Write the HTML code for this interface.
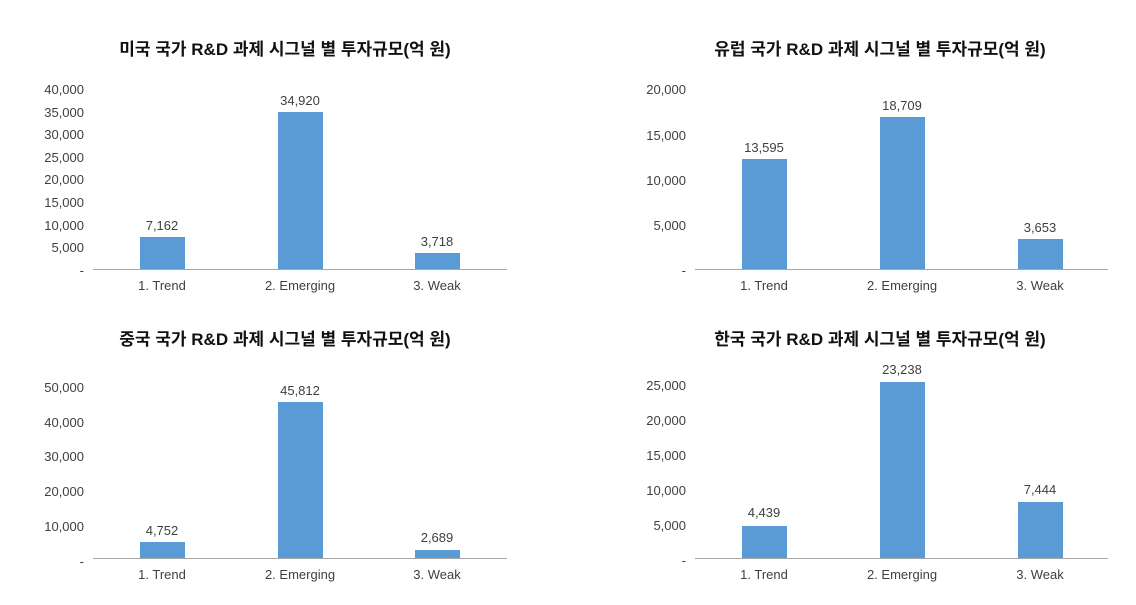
<!DOCTYPE html>
<html><head><meta charset="utf-8"><style>
html,body{margin:0;padding:0;background:#fff;}
svg{display:block;}
text{font-family:"Liberation Sans","Noto Sans CJK KR",sans-serif;fill:#404040;font-size:13px;}
.t{font-size:17px;font-weight:bold;fill:#111;}
.y{text-anchor:end;}
.c{text-anchor:middle;}
</style></head><body>
<svg width="1136" height="605" viewBox="0 0 1136 605">
<!-- Chart 1 US -->
<text class="t c" x="285" y="55">미국 국가 R&amp;D 과제 시그널 별 투자규모(억 원)</text>
<text class="y" x="84" y="94">40,000</text>
<text class="y" x="84" y="117">35,000</text>
<text class="y" x="84" y="139">30,000</text>
<text class="y" x="84" y="162">25,000</text>
<text class="y" x="84" y="184">20,000</text>
<text class="y" x="84" y="207">15,000</text>
<text class="y" x="84" y="230">10,000</text>
<text class="y" x="84" y="252">5,000</text>
<text class="y" x="84" y="275">-</text>
<line x1="93" y1="269.5" x2="507" y2="269.5" stroke="#a6a6a6" stroke-width="1"/>
<rect x="140" y="237" width="45" height="32" fill="#5b9bd5"/>
<rect x="278" y="112" width="45" height="157" fill="#5b9bd5"/>
<rect x="415" y="253" width="45" height="16" fill="#5b9bd5"/>
<text class="c" x="162" y="230">7,162</text>
<text class="c" x="300" y="105">34,920</text>
<text class="c" x="437" y="246">3,718</text>
<text class="c" x="162" y="290">1. Trend</text>
<text class="c" x="300" y="290">2. Emerging</text>
<text class="c" x="437" y="290">3. Weak</text>

<!-- Chart 2 EU -->
<text class="t c" x="880" y="55">유럽 국가 R&amp;D 과제 시그널 별 투자규모(억 원)</text>
<text class="y" x="686" y="94">20,000</text>
<text class="y" x="686" y="140">15,000</text>
<text class="y" x="686" y="185">10,000</text>
<text class="y" x="686" y="230">5,000</text>
<text class="y" x="686" y="275">-</text>
<line x1="695" y1="269.5" x2="1108" y2="269.5" stroke="#a6a6a6" stroke-width="1"/>
<rect x="742" y="159" width="45" height="110" fill="#5b9bd5"/>
<rect x="880" y="117" width="45" height="152" fill="#5b9bd5"/>
<rect x="1018" y="239" width="45" height="30" fill="#5b9bd5"/>
<text class="c" x="764" y="152">13,595</text>
<text class="c" x="902" y="110">18,709</text>
<text class="c" x="1040" y="232">3,653</text>
<text class="c" x="764" y="290">1. Trend</text>
<text class="c" x="902" y="290">2. Emerging</text>
<text class="c" x="1040" y="290">3. Weak</text>

<!-- Chart 3 China -->
<text class="t c" x="285" y="345">중국 국가 R&amp;D 과제 시그널 별 투자규모(억 원)</text>
<text class="y" x="84" y="392">50,000</text>
<text class="y" x="84" y="427">40,000</text>
<text class="y" x="84" y="461">30,000</text>
<text class="y" x="84" y="496">20,000</text>
<text class="y" x="84" y="531">10,000</text>
<text class="y" x="84" y="566">-</text>
<line x1="93" y1="558.5" x2="507" y2="558.5" stroke="#a6a6a6" stroke-width="1"/>
<rect x="140" y="542" width="45" height="16" fill="#5b9bd5"/>
<rect x="278" y="402" width="45" height="156" fill="#5b9bd5"/>
<rect x="415" y="550" width="45" height="8" fill="#5b9bd5"/>
<text class="c" x="162" y="535">4,752</text>
<text class="c" x="300" y="395">45,812</text>
<text class="c" x="437" y="542">2,689</text>
<text class="c" x="162" y="579">1. Trend</text>
<text class="c" x="300" y="579">2. Emerging</text>
<text class="c" x="437" y="579">3. Weak</text>

<!-- Chart 4 Korea -->
<text class="t c" x="880" y="345">한국 국가 R&amp;D 과제 시그널 별 투자규모(억 원)</text>
<text class="y" x="686" y="390">25,000</text>
<text class="y" x="686" y="425">20,000</text>
<text class="y" x="686" y="460">15,000</text>
<text class="y" x="686" y="495">10,000</text>
<text class="y" x="686" y="530">5,000</text>
<text class="y" x="686" y="565">-</text>
<line x1="695" y1="558.5" x2="1108" y2="558.5" stroke="#a6a6a6" stroke-width="1"/>
<rect x="742" y="526" width="45" height="32" fill="#5b9bd5"/>
<rect x="880" y="382" width="45" height="176" fill="#5b9bd5"/>
<rect x="1018" y="502" width="45" height="56" fill="#5b9bd5"/>
<text class="c" x="764" y="517">4,439</text>
<text class="c" x="902" y="374">23,238</text>
<text class="c" x="1040" y="494">7,444</text>
<text class="c" x="764" y="579">1. Trend</text>
<text class="c" x="902" y="579">2. Emerging</text>
<text class="c" x="1040" y="579">3. Weak</text>
</svg>
</body></html>
